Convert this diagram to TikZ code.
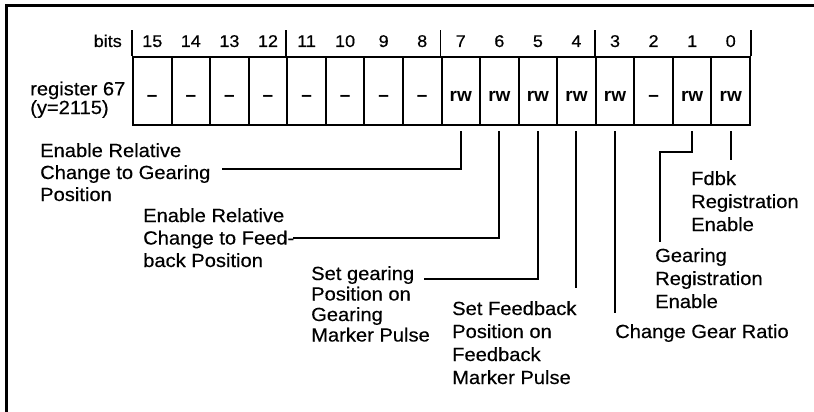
\documentclass[tikz,border=0pt]{standalone}
\usepackage{fontspec}
\setmainfont{Liberation Sans}[FakeStretch=1.06, FakeBold=0.4]
\newfontfamily\cellfont{Liberation Sans}
\usepackage{tikz}
\usetikzlibrary{calc}
\tikzset{
  %% Register cells
  cellbox/.style={
    rectangle, draw=black, line width=2pt,
    minimum width=38.5625pt, minimum height=68pt, inner sep=0pt,
    text height=22pt, text depth=0pt,
    font=\cellfont\bfseries\fontsize{19}{19}\selectfont},
  %% Bit numbers on top
  bitnum/.style={
    anchor=base, inner sep=0pt,
    font=\fontsize{17}{17}\selectfont},
  %% Field labels (anchored at the baseline of the last line)
  lbl/.style={
    anchor=base west, inner sep=0pt, align=left,
    font=\fontsize{19}{22.5}\selectfont},
  %% Lines
  lead/.style={line width=2pt, black},
  sepline/.style={line width=1.6pt, black},
  outframe/.style={line width=3pt, black},
}
\begin{document}
\begin{tikzpicture}[x=1pt, y=-1pt]
  \useasboundingbox (0,0) rectangle (814,412);

  %% Frame (top and left)
  \draw[outframe] (6,412) |- (814,5.5);

  %% Register row
  \foreach \b/\v [count=\i from 0] in {15/\textendash, 14/\textendash,
      13/\textendash, 12/\textendash, 11/\textendash, 10/\textendash,
      9/\textendash, 8/\textendash, 7/rw, 6/rw, 5/rw, 4/rw, 3/rw,
      2/\textendash, 1/rw, 0/rw}{
    \node[cellbox] (b\b) at ({152.28+38.5625*\i},91) {\v};
    \node[bitnum] (n\b) at (b\b.north |- 0,47) {\b};
  }

  %% Nibble separators
  \foreach \b in {15,11,7,3}
    \draw[sepline] (b\b.north west) -- ++(0,-26);
  \draw[sepline] (b0.north east) -- ++(0,-26);

  \node[bitnum, anchor=base east] (bits) at (122,47) {bits};
  \node[lbl, font=\fontsize{19}{17}\selectfont] (reg) at (30,114)
    {register 67\\(y=2115)};

  %% Field labels
  \node[lbl, font=\fontsize{19}{22}\selectfont] (l7) at (40,201)
    {Enable Relative\\Change to Gearing\\Position};
  \node[lbl] (l6) at (143,267)
    {Enable Relative\\Change to Feed-\\back Position};
  \node[lbl, font=\fontsize{19}{20.5}\selectfont] (l5) at (311,341.5)
    {Set gearing\\Position on\\Gearing\\Marker Pulse};
  \node[lbl, font=\fontsize{19}{23}\selectfont] (l4) at (452,384)
    {Set Feedback\\Position on\\Feedback\\Marker Pulse};
  \node[lbl] (l3) at (615,338) {Change Gear Ratio};
  \node[lbl, font=\fontsize{19}{23}\selectfont] (l1) at (655,308)
    {Gearing\\Registration\\Enable};
  \node[lbl, font=\fontsize{19}{23}\selectfont] (l0) at (691,231)
    {Fdbk\\Registration\\Enable};

  %% Line ends
  \coordinate (e7) at (222,169);
  \coordinate (e6) at (293,238);
  \coordinate (e5) at (424,279);
  \coordinate (e4) at (b4.south |- 0,288);
  \coordinate (e3) at (b3.south |- 0,313);
  \coordinate (k1) at (660,152);
  \coordinate (e1) at (660,242);
  \coordinate (e0) at (b0.south |- 0,160);

  %% Leader lines
  \draw[lead] (b7.south) ++(0,5) |- (e7);
  \draw[lead] (b6.south) ++(0,5) |- (e6);
  \draw[lead] (b5.south) ++(0,5) |- (e5);
  \draw[lead] (b4.south) ++(0,5) -- (e4);
  \draw[lead] (b3.south) ++(0,5) -- (e3);
  \draw[lead] (b1.south) ++(0,5) |- (k1) -- (e1);
  \draw[lead] (b0.south) ++(0,5) -- (e0);

\end{tikzpicture}
\end{document}
